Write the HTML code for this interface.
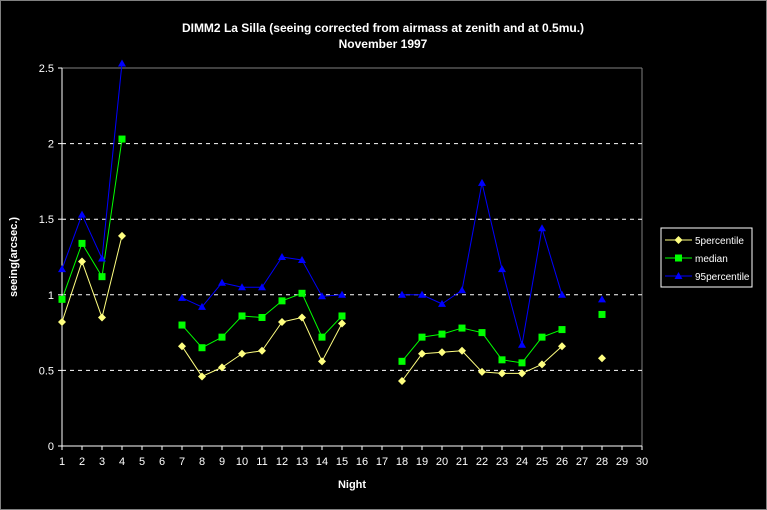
<!DOCTYPE html>
<html><head><meta charset="utf-8"><style>
body{margin:0;background:#000;}
svg{display:block;font-family:"Liberation Sans",sans-serif;}
</style></head><body>
<svg id="c" width="767" height="510" viewBox="0 0 767 510">
<rect x="0.5" y="0.5" width="766" height="509" fill="#000" stroke="#808080"/>
<text x="383" y="32" fill="#fff" font-size="12" font-weight="bold" text-anchor="middle">DIMM2 La Silla (seeing corrected from airmass at zenith and at 0.5mu.)</text>
<text x="383" y="48" fill="#fff" font-size="12" font-weight="bold" text-anchor="middle">November 1997</text>
<g id="grid"></g><g id="axes"></g><g id="series"></g>
<text x="17" y="257" fill="#fff" font-size="11" font-weight="bold" text-anchor="middle" transform="rotate(-90 17 257)">seeing(arcsec.)</text>
<text x="352" y="488" fill="#fff" font-size="11" font-weight="bold" text-anchor="middle">Night</text>
<g>
<rect x="661" y="228" width="91" height="59" fill="#000" stroke="#fff" stroke-width="1"/>
<g id="legend"></g>
</g>
</svg>
<script>
const nights=[1,2,3,4,7,8,9,10,11,12,13,14,15,18,19,20,21,22,23,24,25,26,28];
const p5=[0.82,1.22,0.85,1.39,0.66,0.46,0.52,0.61,0.63,0.82,0.85,0.56,0.81,0.43,0.61,0.62,0.63,0.49,0.48,0.48,0.54,0.66,0.58];
const med=[0.97,1.34,1.12,2.03,0.80,0.65,0.72,0.86,0.85,0.96,1.01,0.72,0.86,0.56,0.72,0.74,0.78,0.75,0.57,0.55,0.72,0.77,0.87];
const p95=[1.17,1.53,1.24,2.53,0.98,0.92,1.08,1.05,1.05,1.25,1.23,0.99,1.00,1.00,1.00,0.94,1.03,1.74,1.17,0.67,1.44,1.00,0.97];
const yTicks=[0,0.5,1,1.5,2,2.5];
const yLabels=["0","0.5","1","1.5","2","2.5"];
const xTicks=[];for(let i=1;i<=30;i++)xTicks.push(i);
const X0=62,X1=642,Y0=446,Y1=68,YMAX=2.5;
const xs=n=>X0+(n-1)*(X1-X0)/29;
const ys=v=>Y0-v*(Y0-Y1)/YMAX;
const NS="http://www.w3.org/2000/svg";
function mk(t,a,p){const e=document.createElementNS(NS,t);for(const k in a)e.setAttribute(k,a[k]);p.appendChild(e);return e;}
const grid=document.getElementById('grid'),axes=document.getElementById('axes'),ser=document.getElementById('series'),leg=document.getElementById('legend');
mk('line',{x1:X0,y1:Y1,x2:X1,y2:Y1,stroke:'#808080'},grid);
mk('line',{x1:X1,y1:Y1,x2:X1,y2:Y0,stroke:'#808080'},grid);
yTicks.forEach((v,i)=>{
 if(v>0&&v<YMAX){const g=mk('line',{x1:X0,y1:ys(v),x2:X1,y2:ys(v),stroke:'#fff','stroke-dasharray':'4,4'},grid);
 }
 mk('line',{x1:X0-4,y1:ys(v),x2:X0,y2:ys(v),stroke:'#fff'},axes);
 const t=mk('text',{x:X0-8,y:ys(v)+4,fill:'#fff','font-size':'11','text-anchor':'end'},axes);t.textContent=yLabels[i];
 
});
mk('line',{x1:X0,y1:Y1,x2:X0,y2:Y0,stroke:'#fff'},axes);
mk('line',{x1:X0,y1:Y0,x2:X1,y2:Y0,stroke:'#fff'},axes);
xTicks.forEach(n=>{
 mk('line',{x1:xs(n),y1:Y0,x2:xs(n),y2:Y0+4,stroke:'#fff'},axes);
 const t=mk('text',{x:xs(n),y:Y0+19,fill:'#fff','font-size':'11','text-anchor':'middle'},axes);t.textContent=n;
 
});
function marker(type,x,y,col,p){
 if(type==='d')return mk('polygon',{points:`${x},${y-4} ${x+4},${y} ${x},${y+4} ${x-4},${y}`,fill:col},p);
 if(type==='s')return mk('rect',{x:x-3.5,y:y-3.5,width:7,height:7,fill:col},p);
 return mk('polygon',{points:`${x},${y-4} ${x+4},${y+3} ${x-4},${y+3}`,fill:col},p);
}
function series(vals,col,type,name){
 const g=mk('g',{},ser);
 for(let i=1;i<nights.length;i++){
  if(nights[i]-nights[i-1]===1)mk('line',{x1:xs(nights[i-1]),y1:ys(vals[i-1]),x2:xs(nights[i]),y2:ys(vals[i]),stroke:col,'stroke-width':1},g);
 }
 nights.forEach((n,i)=>{const m=marker(type,xs(n),ys(vals[i]),col,g);});
}
series(p5,'#ffff80','d','5percentile');
series(med,'#00ff00','s','median');
series(p95,'#0000ff','t','95percentile');
const legItems=[['5percentile','#ffff80','d'],['median','#00ff00','s'],['95percentile','#0000ff','t']];
legItems.forEach((it,i)=>{
 const y=240+i*18;
 const g=mk('g',{},leg);
 mk('line',{x1:665,y1:y,x2:692,y2:y,stroke:it[1]},g);
 marker(it[2],678.5,y,it[1],g);
 const t=mk('text',{x:695,y:y+4,fill:'#fff','font-size':'10'},g);t.textContent=it[0];
});
</script>
</body></html>
